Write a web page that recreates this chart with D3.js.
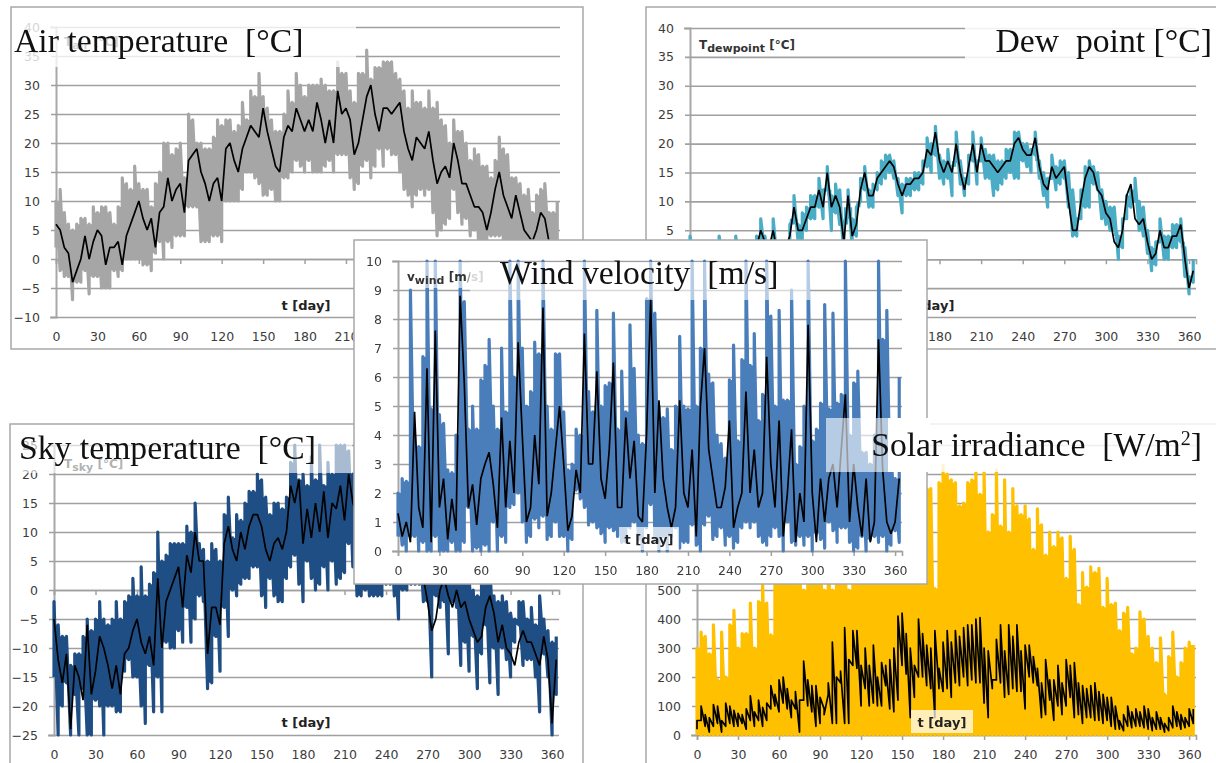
<!DOCTYPE html>
<html>
<head>
<meta charset="utf-8">
<script src="https://cdn.jsdelivr.net/npm/d3@7"></script>
<style>
  html, body { margin: 0; padding: 0; background: #fff; overflow: hidden; }
  text { font-family: "DejaVu Sans", sans-serif; }
  .tick-label text { font-size: 12.5px; fill: #3c3c3c; }
  .small-title { font-size: 12px; font-weight: bold; fill: #333; }
  .big-title { font-family: "Liberation Serif", serif; font-size: 33.7px; fill: #111; white-space: pre; }
  .soft { filter: blur(0.5px); }
</style>
</head>
<body>
<svg id="chart" width="1216" height="763"></svg>
<script>
// samples, one every 3 days
const days = d3.range(0, 366, 3);
const xTicks = d3.range(0, 361, 30);

const airHigh = [
  10,12,8,6,5,6,7,7,6,9,
  8,9,9,8,6,9,14,13,12,16,
  13,12,12,9,13,15,20,20,18,19,
  20,14,25,24,20,20,19,19,21,24,
  23,24,24,22,23,27,24,29,28,32,
  28,26,24,22,22,25,29,27,32,30,
  28,30,30,30,31,30,29,29,34,32,
  32,29,27,32,32,36,31,33,33,34,
  34,34,32,31,29,26,29,27,27,26,
  29,26,27,24,23,20,24,22,22,20,
  17,19,18,16,16,14,17,21,19,18,
  14,14,13,11,12,8,11,12,13,8,
  8,10];
const airLow = [
  2,-2,-3,-3,-7,-4,-4,-2,-6,-3,
  -3,-5,-5,-5,-2,-3,-2,0,0,0,
  0,-1,-1,-2,1,3,0,3,2,4,
  4,4,9,9,9,3,3,3,4,4,
  3,10,10,10,10,12,15,15,14,13,
  11,11,12,10,10,14,14,15,17,16,
  15,17,15,15,15,16,17,15,18,18,
  18,14,12,13,16,17,14,16,19,16,
  19,18,18,15,12,11,9,11,12,11,
  12,8,4,5,6,7,12,8,6,7,
  4,5,3,3,3,4,4,4,3,3,
  2,3,3,2,2,1,2,2,2,1,
  1,1];
const airMean = [
  6,5,2,1,-4,-2,0,4,0,3,
  5,4,-1,2,2,3,-1,4,6,8,
  10,7,5,7,2,8,9,14,10,12,
  13,8,17,18,19,15,13,10,13,14,
  10,19,20,17,15,19,21,23,22,21,
  26,22,19,16,15,21,23,22,26,24,
  22,24,22,27,24,20,24,20,29,25,
  26,24,18,20,24,28,30,25,22,26,
  26,25,26,27,22,19,17,21,20,19,
  22,17,13,15,16,14,20,17,13,13,
  11,9,9,8,5,8,12,15,11,9,
  7,11,8,5,4,3,5,8,7,3,
  3,3];

const dewHigh = [
  4,3,3,2,2,2,2,4,3,2,
  2,4,2,1,2,3,4,7,4,3,
  7,3,2,3,6,11,6,8,9,11,
  11,14,12,16,11,13,12,6,12,7,
  9,14,16,12,13,15,17,18,18,17,
  14,13,14,14,15,15,17,21,20,23,
  18,17,19,16,22,17,14,18,22,17,
  21,19,18,18,17,17,19,19,22,22,
  20,20,19,22,17,15,14,18,16,17,
  17,15,12,7,12,16,17,16,15,12,
  10,9,9,4,7,11,12,14,10,9,
  5,2,3,7,4,4,6,6,7,2,
  -3,0];
const dewLow = [
  1,0,-1,-2,-2,-2,-1,-1,-1,-1,
  0,-1,-2,-3,-2,-1,0,3,1,0,
  3,-1,-2,0,2,7,3,3,5,7,
  7,9,7,12,5,8,6,0,9,2,
  4,10,12,9,9,12,13,14,15,14,
  11,8,11,11,12,12,13,16,15,18,
  14,13,14,11,17,13,11,13,17,13,
  17,14,14,11,12,13,14,15,14,14,
  17,16,15,18,14,11,9,14,12,13,
  14,9,4,4,7,9,9,13,12,7,
  6,5,5,0,2,7,9,10,5,4,
  1,-2,-1,3,0,0,2,2,3,-3,
  -6,-4];
const dewMean = [
  3,2,1,0,0,0,1,1,1,1,
  2,1,0,-1,0,1,2,5,3,2,
  5,1,0,2,4,9,5,5,7,9,
  9,12,9,15,9,11,9,3,11,4,
  6,12,15,11,11,14,15,16,17,16,
  13,11,13,13,14,14,15,19,18,22,
  17,15,17,15,20,15,12,16,20,15,
  20,17,17,16,15,16,17,17,20,21,
  19,18,18,21,16,13,12,16,14,15,
  16,10,5,5,10,14,16,15,12,11,
  8,7,3,2,5,11,13,7,6,7,
  3,0,1,5,2,2,4,4,6,0,
  -5,-2];

const skyHigh = [
  -2,-6,-8,-8,-13,-11,-11,-8,-5,-7,
  -5,-2,-5,-6,-5,-2,-5,-2,-1,2,
  -1,4,-1,1,3,10,5,6,8,8,
  8,8,11,10,15,8,7,5,8,7,
  5,13,16,9,13,12,15,17,17,20,
  19,16,13,15,15,14,16,22,25,19,
  20,18,23,19,25,18,22,20,25,25,
  25,24,20,15,15,14,13,14,14,14,
  14,13,12,14,13,12,12,12,11,9,
  7,1,3,6,8,6,4,6,4,5,
  2,0,-1,1,3,4,-1,-2,-1,-2,
  -4,-5,-2,-2,-5,-3,-6,-1,-5,-7,
  -9,-8];
const skyLow = [
  -15,-25,-20,-16,-25,-18,-25,-17,-25,-25,
  -19,-20,-25,-20,-20,-21,-21,-14,-12,-15,
  -15,-20,-23,-13,-21,-15,-21,-9,-10,-10,
  -7,-9,-3,-9,-5,-1,-2,-17,-16,-8,
  -14,-3,-8,0,-1,1,2,2,4,4,
  -1,-3,2,-1,-2,-2,2,4,6,1,
  -2,5,2,0,1,4,0,5,1,2,
  3,8,4,-1,-1,0,-1,-1,-1,-1,
  1,1,-1,-5,0,0,1,1,1,-2,
  -2,-15,-1,-3,-2,-11,-2,-3,-13,-9,
  -14,-8,-17,-11,-6,-16,-10,-18,-10,-12,
  -15,-9,-6,-13,-12,-12,-15,-21,-11,-15,
  -25,-18];
const skyMean = [
  -5,-12,-16,-11,-24,-13,-15,-19,-6,-18,
  -14,-8,-10,-13,-17,-13,-18,-11,-10,-7,
  -5,-9,-11,-8,-13,2,-10,-2,0,2,
  4,-3,6,3,10,5,5,-11,-3,-3,
  -6,8,11,7,5,10,7,11,13,13,
  11,7,5,8,9,7,10,18,15,19,
  8,14,9,15,10,17,9,15,14,18,
  12,20,15,13,12,10,8,9,10,8,
  8,7,5,8,7,6,5,6,5,2,
  -2,-7,-5,0,2,-1,-3,0,-3,-2,
  -5,-7,-9,-8,-3,-1,-4,-9,-6,-10,
  -11,-13,-9,-7,-9,-9,-11,-13,-8,-12,
  -23,-12];

const windHigh = [
  2,2.5,2.4,9,4,3.6,6.7,10,4.9,10,
  4.7,4.4,2.8,2.7,4,10,8.6,4.2,5,4.2,
  5.9,6.4,7.3,5,4.2,7,4.8,10,6,10,
  7,5,5.5,7.2,6.8,10,5,4.2,6.8,6.8,
  4.8,2.8,3,4.2,4,10,5.5,4.8,8.3,5,
  5.7,5.8,8.2,4.2,6.2,4.8,7.8,6.3,4,3.7,
  8.7,10,8.2,5,4.6,4.9,3.5,5,7.4,5,
  4.9,10,5,7,10,6.1,5.8,4,3.7,3.2,
  5.9,7.1,3.8,6.6,10,6.4,7.5,4.5,5.4,10,
  8.1,5,8.3,5.2,5.2,9,3,3.6,5,10,
  3.8,4.2,5.1,8.5,4.9,8.2,5.1,5.4,10,4,
  5.8,6.2,3.4,3.4,3,4,10,7.3,8.3,3.5,
  2.5,6];
const windLow = [
  0.5,0.2,0,0.5,0.5,0,0.3,0,0,0.5,
  0,0,0,0.3,0,0,0.3,1.5,0,0.1,
  0,0.2,0,1,0,0.5,0.3,1.5,1.6,2,
  1,0.3,0.5,1.1,0.8,1.2,0.4,0.5,1,0.5,
  0.5,0,0.4,2.1,1.8,1.5,0.9,1,0.8,0.6,
  0.3,0.8,0.7,0.5,0.3,0.3,0.8,1,0.4,0,
  0.8,1.6,0.4,0,0.5,0,0.5,0.8,0.1,0.3,
  0.3,0.9,0.2,0,0.9,1.2,0.4,0.5,0.8,0.2,
  0.5,0.1,0.3,0.8,1,0.8,1,0.5,0.3,0.2,
  0.5,0.8,0.5,0,1,0.3,0.2,0.5,0.2,0.5,
  0,0.6,0.4,0.1,1,0.7,0.3,0.8,0.8,0.3,
  0,0.1,0.5,0,0.4,0.5,0.3,0.5,0,0.2,
  0.7,0.3];
const windMean = [
  1.3,0.5,1,0.3,4.8,1.5,0.8,6.3,0.3,7.6,
  1.5,2.5,0.4,1.8,0.7,8.8,5.8,1.5,2.3,0.9,
  2.5,3,3.4,2.3,0.8,4.6,1.5,3.8,2,7.2,
  4,1,1.5,4,2.3,8.4,1.2,2,3.5,5,
  3,0.7,1.2,2.8,2,7.5,3,3,6.2,2.5,
  1.8,3.5,6.5,1.5,1.5,4.6,2.5,3.8,1.2,1,
  4,8.7,2,5.2,2.5,1.5,0.8,1.5,5.2,2,
  1.5,3.5,0.5,5,7,3.5,2.5,1.5,1.5,2.2,
  4.5,0.8,1.5,2,5.5,2,3.5,1.5,2,6.7,
  3,1.5,4.5,0.5,2,4.2,0.3,2,1,7.8,
  2,0.3,2.5,1,2.5,3,1.5,3.5,5.4,1,
  3,1.5,0.5,2.5,0.3,1,7.3,2.8,1,0.6,
  1,2.5];

const solarHigh = [
  300,355,340,280,380,190,355,200,380,430,
  300,350,350,455,300,460,520,455,345,580,
  700,800,650,520,780,650,500,700,800,850,
  760,500,700,500,850,900,720,500,880,780,
  850,880,780,700,850,900,600,720,900,850,
  900,800,930,540,880,780,850,850,505,870,
  930,900,880,870,790,800,870,880,905,830,
  905,700,760,915,720,880,700,850,790,760,
  790,745,640,780,725,620,700,650,700,680,
  540,685,640,450,560,510,580,560,575,440,
  540,450,455,360,420,440,280,300,425,400,
  340,300,250,335,140,270,355,200,250,300,
  320,310];
const solarLow = [
  0,0,0,0,0,0,0,0,0,0,
  0,0,0,0,0,0,0,0,0,0,
  0,0,0,0,0,0,0,0,0,0,
  0,0,0,0,0,0,0,0,0,0,
  0,0,0,0,0,0,0,0,0,0,
  0,0,0,0,0,0,0,0,0,0,
  0,0,0,0,0,0,0,0,0,0,
  0,0,0,0,0,0,0,0,0,0,
  0,0,0,0,0,0,0,0,0,0,
  0,0,0,0,0,0,0,0,0,0,
  0,0,0,0,0,0,0,0,0,0,
  0,0,0,0,0,0,0,0,0,0,
  0,0];
const solarBlackTop = [
  50,100,70,60,105,100,50,110,100,85,
  75,70,90,135,80,120,95,110,170,140,
  190,200,160,120,150,120,255,190,170,170,
  130,70,180,320,200,220,370,260,360,360,
  240,300,240,310,200,250,240,260,300,410,
  420,350,300,240,400,350,310,300,360,230,
  320,360,320,360,340,370,380,380,400,405,
  300,290,190,330,380,290,380,340,380,290,
  310,310,270,230,180,260,190,190,240,180,
  260,240,250,180,170,160,170,180,150,140,
  130,130,100,50,70,100,80,90,80,100,
  90,60,80,60,40,60,100,80,70,60,
  90,90];
const solarBlackBottom = [
  20,50,30,10,30,40,10,30,40,30,
  30,40,20,50,30,50,30,50,90,100,
  80,110,90,60,90,10,120,100,80,30,
  40,90,140,40,40,180,40,40,240,230,
  100,160,100,110,100,100,170,90,80,120,
  240,210,60,130,200,200,170,160,60,160,
  150,160,130,180,170,200,170,190,180,180,
  110,60,160,190,180,130,140,160,150,150,
  90,200,180,170,60,70,120,50,100,70,
  100,130,60,70,40,60,60,50,50,40,
  50,30,20,20,15,30,25,30,30,25,
  20,15,20,20,10,15,25,30,20,25,
  30,40];

const svg = d3.select('#chart');
const soft = svg.append('g').attr('class', 'soft');

function addFrame(x, y, w, h) {
  return soft.append('rect')
    .attr('x', x).attr('y', y).attr('width', w).attr('height', h)
    .attr('fill', '#fff').attr('stroke', '#a8a8a8').attr('stroke-width', 1.5);
}

function addVeil(x, y, w, h, opacity) {
  soft.append('rect')
    .attr('x', x).attr('y', y).attr('width', w).attr('height', h)
    .attr('fill', '#fff').attr('opacity', opacity);
}

// low-high pairs walked in turn, so the hourly swing reads as one thick line
function swing(low, high) {
  const pts = [];
  days.forEach((d, i) => {
    pts.push({ day: d, v: low[i] });
    pts.push({ day: d, v: high[i] });
  });
  return pts;
}

function addSwing(p, low, high, color, width) {
  p.g.append('path')
    .attr('fill', 'none').attr('stroke', color).attr('stroke-width', width)
    .attr('stroke-linejoin', 'round')
    .attr('d', d3.line().x(d => p.x(d.day)).y(d => p.y(d.v))(swing(low, high)));
}

// fills the gaps between neighbouring swings, where both of them pass
function addCore(p, low, high, color) {
  const last = days.length - 1;
  p.g.append('path')
    .attr('fill', color)
    .attr('d', d3.area().curve(d3.curveStepAfter)
      .x((d, i) => p.x(days[i]))
      .y0((d, i) => p.y(Math.max(low[i], low[Math.min(i + 1, last)])))
      .y1((d, i) => p.y(Math.min(high[i], high[Math.min(i + 1, last)])))(days));
}

// one Excel style panel: grid, zero line ticks, labels kept at the bottom
function addPanel(p) {
  const g = soft.append('g');
  const x = d3.scaleLinear().domain([0, 365]).range([p.x0, p.x1]);
  const y = d3.scaleLinear().domain(p.yDomain).range([p.yBottom, p.yTop]);
  const panel = { g, x, y };

  const yAxis = g.append('g').attr('class', 'tick-label')
    .attr('transform', `translate(${p.x0},0)`)
    .call(d3.axisLeft(y).tickValues(p.yTicks).tickPadding(p.padY));
  yAxis.selectAll('.tick line')
    .attr('x1', -5).attr('x2', p.x1 - p.x0)
    .attr('stroke', '#a0a0a0').attr('stroke-width', 1.6);
  yAxis.select('.domain').attr('stroke', '#a8a8a8').attr('stroke-width', 2);

  const zero = g.append('g')
    .attr('transform', `translate(0,${y(0)})`)
    .call(d3.axisBottom(x).tickValues(xTicks).tickSize(5).tickFormat(''));
  zero.selectAll('.tick line').attr('stroke', '#a0a0a0').attr('stroke-width', 1.5);
  zero.select('.domain').attr('stroke', '#a0a0a0').attr('stroke-width', 1.6);

  const xLabels = g.append('g').attr('class', 'tick-label')
    .attr('transform', `translate(0,${p.yBottom})`)
    .call(d3.axisBottom(x).tickValues(xTicks).tickSize(0).tickPadding(p.padX));
  xLabels.select('.domain').remove();

  if (p.high) {
    addCore(panel, p.low, p.high, p.color);
    addSwing(panel, p.low, p.high, p.color, 3.2);
  }
  if (p.mean) {
    g.append('path')
      .attr('fill', 'none').attr('stroke', '#000').attr('stroke-width', 1.7)
      .attr('stroke-linejoin', 'bevel')
      .attr('d', d3.line().x((d, i) => x(days[i])).y(d => y(d))(p.mean));
  }
  return panel;
}

function addLabel(cx, cy, back) {
  if (back) {
    soft.append('rect')
      .attr('x', cx - back / 2).attr('y', cy - 12).attr('width', back).attr('height', 23)
      .attr('fill', '#fff').attr('opacity', 0.72);
  }
  soft.append('text')
    .attr('x', cx).attr('y', cy + 4.5)
    .attr('text-anchor', 'middle')
    .attr('font-size', 13).attr('font-weight', 'bold').attr('fill', '#222')
    .text('t [day]');
}

function addSmallTitle(x, y, main, sub, rest) {
  const t = soft.append('text').attr('class', 'small-title').attr('x', x).attr('y', y);
  t.append('tspan').text(main);
  t.append('tspan').attr('dy', 3).attr('font-size', 11).text(sub);
  t.append('tspan').attr('dy', -3).text(rest);
  return t;
}

const tempTicks = d3.range(-10, 41, 5);

// air temperature
addFrame(11, 7, 572, 342);
addPanel({
  x0: 56, x1: 560, yTop: 27, yBottom: 317, yDomain: [-10, 40], yTicks: tempTicks,
  padY: 10, padX: 15, color: '#a6a6a6', high: airHigh, low: airLow, mean: airMean
});
addLabel(306, 305);
addSmallTitle(64, 46, 'T', 'air', ' [°C]');
addVeil(12, 22, 344, 45, 0.78);

// dew point
addFrame(646, 7, 574, 342);
addPanel({
  x0: 690, x1: 1196, yTop: 28, yBottom: 317, yDomain: [-10, 40], yTicks: tempTicks,
  padY: 10, padX: 15, color: '#4bacc6', high: dewHigh, low: dewLow, mean: dewMean
});
addLabel(930, 305);
addSmallTitle(699, 49, 'T', 'dewpoint', ' [°C]');
addVeil(965, 22, 251, 44, 0.85);

// sky temperature
addFrame(10, 424, 573, 345);
addPanel({
  x0: 54, x1: 559, yTop: 445, yBottom: 735, yDomain: [-25, 25], yTicks: d3.range(-25, 26, 5),
  padY: 10, padX: 15, color: '#1f4e85', high: skyHigh, low: skyLow, mean: skyMean
});
addLabel(306, 722);
addSmallTitle(64, 468, 'T', 'sky', ' [°C]');
addVeil(12, 430, 340, 43, 0.62);

// solar irradiance
addFrame(646, 424, 574, 345);
const solar = addPanel({
  x0: 697, x1: 1196, yTop: 445, yBottom: 735, yDomain: [0, 1000], yTicks: d3.range(0, 1001, 100),
  padY: 10, padX: 15, color: '#ffc000', high: solarHigh, low: solarLow
});
addSwing(solar, solarBlackBottom, solarBlackTop, '#000', 1.7);
addLabel(942, 722, 62);

// wind velocity, pasted on top of the others
addFrame(354, 240, 573, 344);
addPanel({
  x0: 398, x1: 902, yTop: 261, yBottom: 551, yDomain: [0, 10], yTicks: d3.range(0, 11, 1),
  padY: 10, padX: 15, color: '#4a7ebb', high: windHigh, low: windLow, mean: windMean
});
addLabel(649, 539, 60);
addVeil(422, 262, 40, 26, 0.6);
const windTitle = addSmallTitle(407, 281, 'v', 'wind', ' [m');
windTitle.append('tspan').attr('fill', '#999').text('/s]');
addVeil(470, 262, 340, 38, 0.6);

// title patches over the solar panel and the wind panel
addVeil(826, 418, 62, 54, 0.6);
addVeil(888, 418, 42, 54, 1);
addVeil(930, 418, 286, 54, 0.82);

// big titles added later on the slide
const bigTitles = svg.append('g');
function addBigTitle(x, y, anchor, txt) {
  return bigTitles.append('text').attr('class', 'big-title')
    .attr('x', x).attr('y', y).attr('text-anchor', anchor).text(txt);
}
addBigTitle(14, 52, 'start', 'Air temperature  [°C]');
addBigTitle(1212, 52, 'end', 'Dew  point [°C]');
addBigTitle(19, 459, 'start', 'Sky temperature  [°C]');
addBigTitle(500, 284, 'start', 'Wind velocity  [m/s]');
const solarTitle = addBigTitle(1202, 456, 'end', 'Solar irradiance  [W/m');
solarTitle.append('tspan').attr('dy', -11).attr('font-size', 20).text('2');
solarTitle.append('tspan').attr('dy', 11).text(']');
</script>
</body>
</html>
